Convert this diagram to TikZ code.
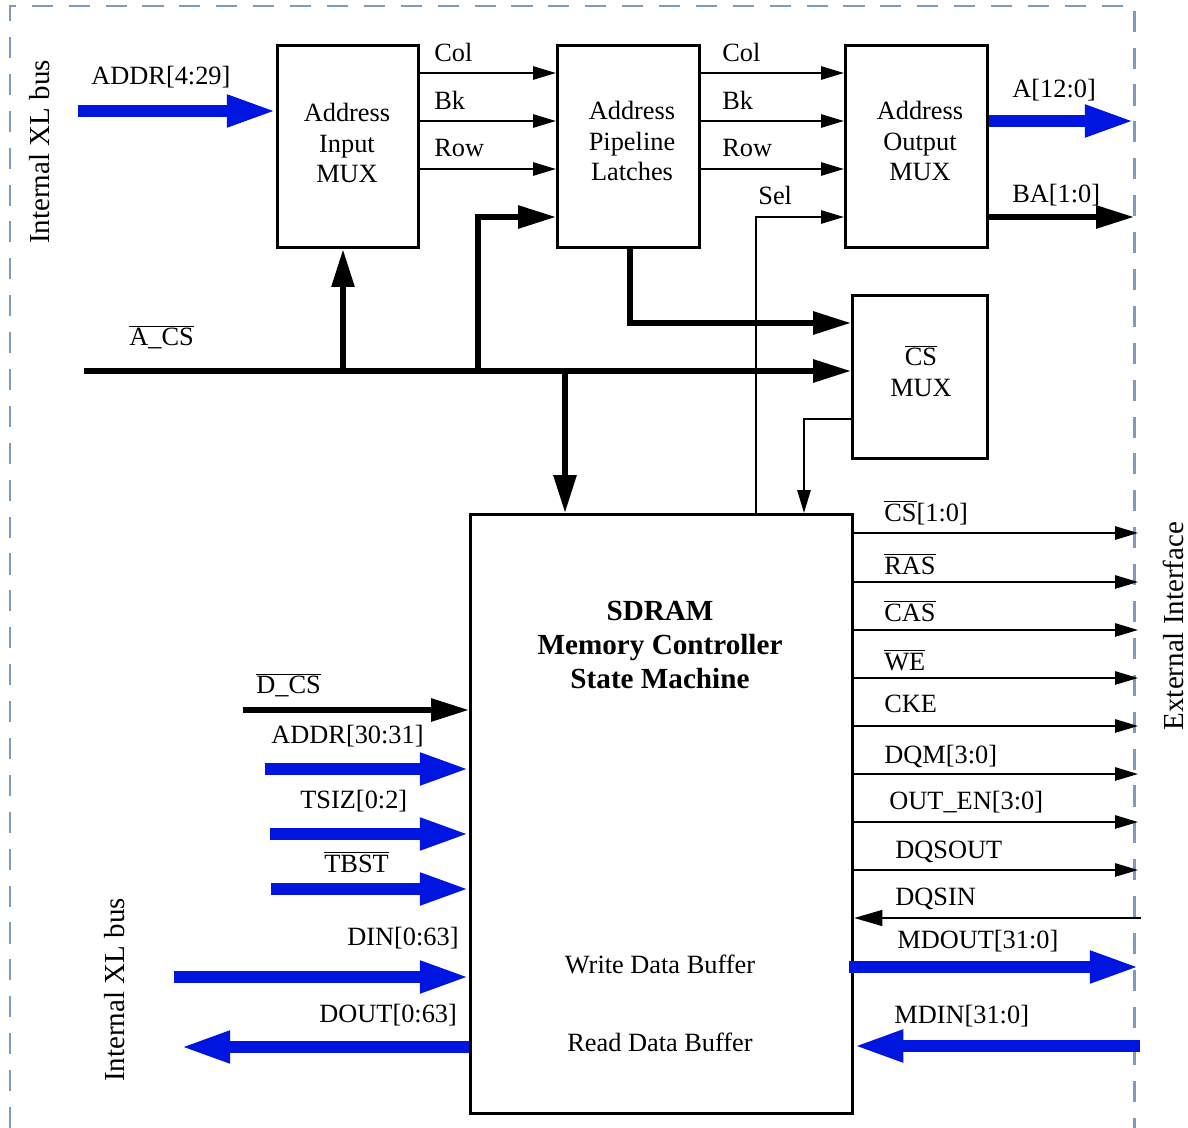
\documentclass[tikz,border=0pt]{standalone}
\usepackage{fontspec}
\setmainfont{Liberation Serif}
\usetikzlibrary{arrows.meta}
\definecolor{busblue}{RGB}{0,22,224}
\definecolor{framecol}{RGB}{128,155,185}
\newcommand{\ovl}[1]{$\overline{\mbox{#1}}$}
\begin{document}
\begin{tikzpicture}[x=0.02cm,y=-0.02cm,
  every node/.style={font=\fontsize{15}{17.6}\selectfont},
  wh/.style 2 args={minimum width=#1*0.02cm, minimum height=#2*0.02cm},
  box/.style={draw, line width=1.8pt, anchor=north west, inner sep=0pt},
  boxtext/.style={align=center, inner sep=0pt},
  lbl/.style={anchor=west, inner sep=0pt},
  rot/.style={rotate=90, inner sep=0pt, font=\fontsize{16.5}{19}\selectfont},
  sig/.style={line width=1.1pt, -{Triangle[length=13pt,width=7.5pt]}},
  thickbus/.style={line width=3.3pt, -{Triangle[length=21.5pt,width=12.5pt]}},
  bluebus/.style={draw=busblue, line width=6.3pt, -{Triangle[length=28pt,width=17pt]}},
  framestyle/.style={draw=framecol, line width=1.7pt, dash pattern=on 12pt off 9pt}
]
\useasboundingbox (0,0) rectangle (1188,1128);
\draw[framestyle] (10,1128) -- (10,6) -- (1134,6) -- (1134,1128);

% boxes
\node[box, wh={141}{202}] (aim) at (276,44) {};
\node[boxtext] (aimt) at (347,143) {Address\\Input\\MUX};
\node[box, wh={142}{202}] (apl) at (556,44) {};
\node[boxtext] (aplt) at (632,141) {Address\\Pipeline\\Latches};
\node[box, wh={142}{202}] (aom) at (844,44) {};
\node[boxtext] (aomt) at (920,141) {Address\\Output\\MUX};
\node[box, wh={135}{163}] (csm) at (851,294) {};
\node[boxtext] (csmt) at (921,371) {\ovl{CS}\\MUX};
\node[box, wh={382}{599}] (sm) at (469,513) {};
\node[font=\fontsize{16.6}{19.2}\selectfont\bfseries, align=center] (smt) at (660,645) {SDRAM\\Memory Controller\\State Machine};
\node (wdb) at (660,964) {Write Data Buffer};
\node (rdb) at (660,1042) {Read Data Buffer};

% rotated side labels
\node[rot] (ixl1) at (40,152) {Internal XL bus};
\node[rot] (ixl2) at (115,990) {Internal XL bus};
\node[rot] (ext) at (1173,626) {External Interface};

% top address path
\coordinate (a429) at (78,111);
\draw[bluebus] (a429) -- (aim.west |- a429);
\node[lbl] (la429) at (91,77) {ADDR[4:29]};

\draw[sig] (aim.east |- 0,73) -- (apl.west |- 0,73);
\draw[sig] (aim.east |- 0,121) -- (apl.west |- 0,121);
\draw[sig] (aim.east |- 0,169) -- (apl.west |- 0,169);
\node[lbl] (lc1) at (434,52) {Col};
\node[lbl] (lb1) at (434,100) {Bk};
\node[lbl] (lr1) at (434,148) {Row};

\draw[sig] (apl.east |- 0,73) -- (aom.west |- 0,73);
\draw[sig] (apl.east |- 0,121) -- (aom.west |- 0,121);
\draw[sig] (apl.east |- 0,169) -- (aom.west |- 0,169);
\node[lbl] (lc2) at (722,52) {Col};
\node[lbl] (lb2) at (722,100) {Bk};
\node[lbl] (lr2) at (722,148) {Row};

\draw[sig] (sm.north -| 756,0) |- (aom.west |- 0,217);
\node[lbl] (lsel) at (758,195) {Sel};

\coordinate (aOut) at (1134,121);
\draw[bluebus] (aom.east |- aOut) -- (aOut);
\node[lbl] (laout) at (1012,90) {A[12:0]};
\coordinate (baOut) at (1134,217);
\draw[thickbus] (aom.east |- baOut) -- (baOut);
\node[lbl] (lba) at (1012,195) {BA[1:0]};

% A_CS bus
\coordinate (acsL) at (84,371);
\draw[thickbus] (acsL) -- (csm.west |- acsL);
\node[lbl] (lacs) at (129,337) {\ovl{A\_CS}};
\draw[thickbus] (acsL -| 343,0) -- (aim.south -| 343,0);
\draw[thickbus] (acsL -| 478,0) |- (apl.west |- 0,217);
\draw[thickbus] (acsL -| 565,0) -- (sm.north -| 565,0);
\draw[thickbus] (apl.south -| 630,0) |- (csm.west |- 0,323);
\draw[sig] (csm.west |- 0,419) -| (sm.north -| 804,0);

% right outputs
\foreach \n/\y in {1/533,2/582,3/630,4/678,5/726,6/774,7/822,8/870}{
  \coordinate (o\n) at (1138,\y);
  \draw[sig] (sm.east |- o\n) -- (o\n);
}
\node[lbl] (lcs) at (884,513) {\ovl{CS}[1:0]};
\node[lbl] (lras) at (884,564) {\ovl{RAS}};
\node[lbl] (lcas) at (884,611) {\ovl{CAS}};
\node[lbl] (lwe) at (884,660) {\ovl{WE}};
\node[lbl] (lcke) at (884,704) {CKE};
\node[lbl] (ldqm) at (884,756) {DQM[3:0]};
\node[lbl] (loe) at (889,802) {OUT\_EN[3:0]};
\node[lbl] (ldqso) at (895,852) {DQSOUT};

\coordinate (dqsin) at (1141,918);
\draw[line width=1.1pt, -{Triangle[length=16pt,width=9pt]}] (dqsin) -- (sm.east |- dqsin);
\node[lbl] (ldqsi) at (895,899) {DQSIN};
\coordinate (mdout) at (1139,967);
\draw[bluebus] ([xshift=-5*0.02cm]sm.east |- mdout) -- (mdout);
\node[lbl] (lmdo) at (897,941) {MDOUT[31:0]};
\coordinate (mdin) at (1140,1046);
\draw[bluebus] (mdin) -- (sm.east |- mdin);
\node[lbl] (lmdi) at (894,1016) {MDIN[31:0]};

% left inputs
\coordinate (dcs) at (243,710);
\draw[thickbus] (dcs) -- (sm.west |- dcs);
\node[lbl] (ldcs) at (256,685) {\ovl{D\_CS}};
\coordinate (a3031) at (265,769);
\draw[bluebus] (a3031) -- (sm.west |- a3031);
\node[lbl] (la3031) at (271,736) {ADDR[30:31]};
\coordinate (tsiz) at (270,834);
\draw[bluebus] (tsiz) -- (sm.west |- tsiz);
\node[lbl] (ltsiz) at (300,801) {TSIZ[0:2]};
\coordinate (tbst) at (271,889);
\draw[bluebus] (tbst) -- (sm.west |- tbst);
\node[lbl] (ltbst) at (324,862) {\ovl{TBST}};
\coordinate (din) at (174,977);
\draw[bluebus] (din) -- (sm.west |- din);
\node[lbl] (ldin) at (347,938) {DIN[0:63]};
\coordinate (dout) at (181,1047);
\draw[bluebus] (sm.west |- dout) -- (dout);
\node[lbl] (ldout) at (319,1015) {DOUT[0:63]};
\end{tikzpicture}
\end{document}
